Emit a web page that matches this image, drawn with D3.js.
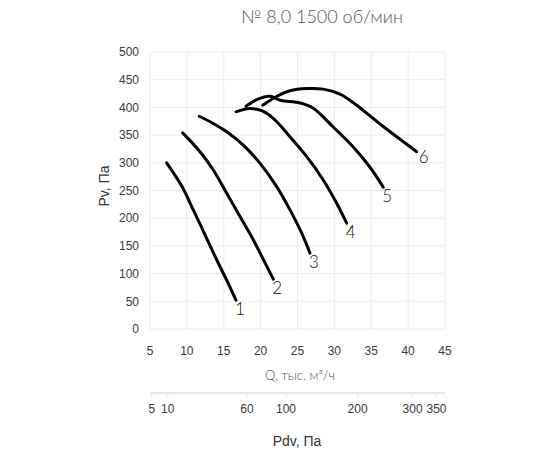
<!DOCTYPE html>
<html><head><meta charset="utf-8">
<script src="https://cdn.jsdelivr.net/npm/d3@7"></script>
<style>
body{margin:0;background:#fff;}
svg{display:block;}
</style></head>
<body><svg id="c" width="550" height="450"></svg>
<script>
// ---- data ----
const title = "№ 8,0 1500 об/мин";
const xTicks = [5,10,15,20,25,30,35,40,45];
const yTicks = [0,50,100,150,200,250,300,350,400,450,500];
const pdvTicks = [5,10,60,100,200,300,350];
const curveNames = ["1","2","3","4","5","6"];
const curve1 = [[7.26,300],[9.3,258],[10.87,215],[12.46,170],[14.04,125],[15.62,82],[16.66,52]];
const curve2 = [[9.43,354],[11.78,320],[13.58,287],[15.4,245],[17.2,203],[19.0,161],[20.35,126],[21.72,90]];
const curve3 = [[11.68,384],[13.58,371],[15.4,356],[17.65,332],[19.92,299],[22.18,257],[23.98,215],[25.57,173],[26.69,137]];
const curve4 = [[16.66,392],[18.56,398],[20.15,394],[21.72,380],[23.98,347],[26.25,311],[28.49,269],[30.31,227],[31.67,191]];
const curve5 = [[18.02,402],[19.64,415],[21.27,420],[22.63,413],[25.34,408],[27.1,399],[29.81,365],[32.53,329],[34.83,292],[36.63,256]];
const curve6 = [[20.28,404],[22.36,421],[23.98,430],[26.25,434],[28.49,433],[30.76,424],[33.02,404],[36.19,370],[41.16,320]];
const curves = [curve1,curve2,curve3,curve4,curve5,curve6];
const pdvK = 0.182; // Pdv = k * Q^2

// ---- chart ----
const svg = d3.select("#c");
const x = d3.scaleLinear().domain([5,45]).range([150,445]);
const y = d3.scaleLinear().domain([0,500]).range([329,52]);
const pdv = v => x(Math.sqrt(v/pdvK));

// grid
svg.append("g").selectAll("line").data(yTicks).join("line")
  .attr("x1",x(5)).attr("x2",x(45)).attr("y1",d=>y(d)).attr("y2",d=>y(d))
  .attr("stroke","#ececec").attr("stroke-width",1);
svg.append("g").selectAll("line").data(xTicks).join("line")
  .attr("y1",y(0)).attr("y2",y(500)).attr("x1",d=>x(d)).attr("x2",d=>x(d))
  .attr("stroke","#ececec").attr("stroke-width",1);

const tickFont = "'Liberation Sans', Arial, sans-serif";
// y labels
svg.append("g").selectAll("text").data(yTicks).join("text")
  .attr("x",139).attr("y",d=>y(d)).attr("dy","0.35em").attr("text-anchor","end")
  .attr("font-family",tickFont).attr("font-size",12).attr("fill","#3a3a3a").text(d=>d);
// x labels
svg.append("g").selectAll("text").data(xTicks).join("text")
  .attr("x",d=>x(d)).attr("y",351).attr("dy","0.35em").attr("text-anchor","middle")
  .attr("font-family",tickFont).attr("font-size",12).attr("fill","#3a3a3a").text(d=>d);

// curves
const line = d3.line().x(d=>x(d[0])).y(d=>y(d[1])).curve(d3.curveCatmullRom.alpha(0.5));
svg.append("g").selectAll("path").data(curves).join("path")
  .attr("d",line).attr("fill","none").attr("stroke","#000").attr("stroke-width",3)
  .attr("stroke-linecap","round").attr("stroke-linejoin","round");

// curve labels
const labelFont = "'Lato', 'DejaVu Sans', sans-serif";
svg.append("g").selectAll("text").data(curves).join("text")
  .attr("x",(d,i)=>x(d[d.length-1][0]) + (i===5?7:4))
  .attr("y",(d,i)=>y(d[d.length-1][1]) + (i===5?5:9))
  .attr("dy","0.35em").attr("text-anchor","middle")
  .attr("font-family",labelFont).attr("font-weight",300).attr("font-size",17).attr("fill","#111")
  .text((d,i)=>curveNames[i]);

// title
svg.append("text").attr("x",322).attr("y",23).attr("text-anchor","middle")
  .attr("font-family",labelFont).attr("font-weight",300).attr("font-size",18).attr("fill","#555")
  .text(title);

// axis titles
svg.append("text").attr("x",300).attr("y",375).attr("dy","0.35em").attr("text-anchor","middle")
  .attr("font-family",labelFont).attr("font-weight",300).attr("font-size",13).attr("fill","#555")
  .text("Q, тыс. м³/ч");
svg.append("text").attr("transform","translate(104,186) rotate(-90)").attr("dy","0.35em")
  .attr("text-anchor","middle").attr("font-family",tickFont).attr("font-size",14).attr("fill","#333")
  .text("Pv, Па");

// Pdv axis
svg.append("line").attr("x1",x(5)).attr("x2",x(45)).attr("y1",393).attr("y2",393)
  .attr("stroke","#e0e0e0").attr("stroke-width",1.5);
svg.append("g").selectAll("line").data(pdvTicks).join("line")
  .attr("x1",d=>pdv(d)).attr("x2",d=>pdv(d)).attr("y1",394).attr("y2",398)
  .attr("stroke","#eaeaea");
svg.append("g").selectAll("text").data(pdvTicks).join("text")
  .attr("x",d=>pdv(d)).attr("y",409).attr("dy","0.35em").attr("text-anchor","middle")
  .attr("font-family",tickFont).attr("font-size",12).attr("fill","#3a3a3a").text(d=>d);
svg.append("text").attr("x",297).attr("y",441).attr("dy","0.35em").attr("text-anchor","middle")
  .attr("font-family",tickFont).attr("font-size",14).attr("fill","#333").text("Pdv, Па");
</script></body></html>
